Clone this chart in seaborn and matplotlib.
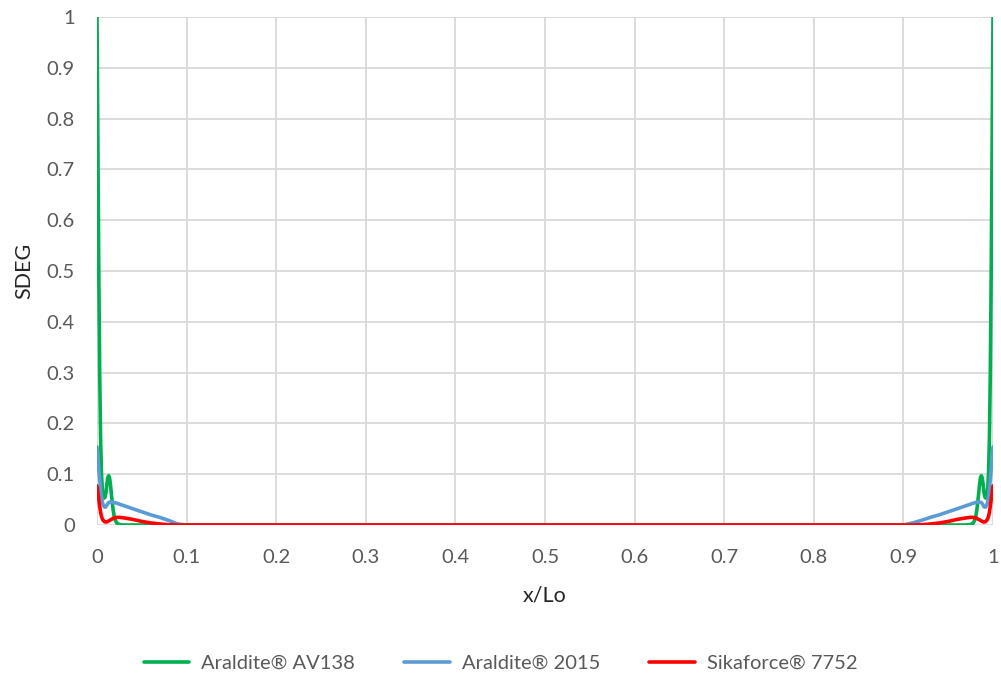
import numpy as np
import pandas as pd
import matplotlib
matplotlib.use("Agg")
import matplotlib.pyplot as plt
import seaborn as sns

# Normalised overlap position x/Lo
x_pos = [0, .001, .002, .003, .004, .005, .006, .007, .008, .009, .010, .011, .012, .013, .014,
         .015, .016, .017, .018, .019, .020, .022, .025, .03, .04, .05, .06, .07, .08, .09, .1,
         .9, .91, .92, .93, .94, .95, .96, .97, .975, .978, .980, .981, .982, .983, .984,
         .985, .986, .987, .988, .989, .990, .991, .992, .993, .994, .995, .996, .997, .998, .999, 1.0]

# SDEG along the overlap for each adhesive
sdeg_av138 = [1.0, .75, .5, .3, .17, .1, .07, .057, .053, .055, .063, .08, .093, .097, .093,
              .08, .062, .045, .03, .019, .011, .004, .001, 0, 0, 0, 0, 0, 0, 0, 0,
              0, 0, 0, 0, 0, 0, 0, 0, .001, .004, .011, .019, .03, .045, .062,
              .08, .093, .097, .093, .08, .063, .055, .053, .057, .07, .1, .17, .3, .5, .75, 1.0]
sdeg_2015 = [.154, .13, .11, .09, .07, .055, .045, .039, .036, .035, .036, .039, .042, .044, .045,
             .045, .045, .045, .045, .044, .044, .043, .041, .038, .032, .026, .02, .015, .009, .002, 0,
             0, .004, .009, .015, .02, .026, .032, .038, .041, .043, .044, .044, .045, .045, .045,
             .045, .045, .044, .042, .039, .036, .035, .036, .039, .045, .055, .07, .09, .11, .13, .154]
sdeg_7752 = [.077, .063, .05, .037, .025, .017, .012, .009, .007, .006, .006, .006, .007, .008, .009,
             .010, .011, .012, .013, .014, .014, .015, .015, .014, .011, .007, .004, .002, .0005, 0, 0,
             0, 0, .0005, .002, .004, .007, .011, .014, .015, .015, .014, .014, .013, .012, .011,
             .010, .009, .008, .007, .006, .006, .006, .007, .009, .012, .017, .025, .037, .05, .063, .077]

series_names = ["Araldite® AV138", "Araldite® 2015", "Sikaforce® 7752"]
series_colors = ["#00B050", "#5B9BD5", "#FF0000"]
tick_values = [round(0.1 * i, 1) for i in range(11)]
tick_labels = ["0", "0.1", "0.2", "0.3", "0.4", "0.5", "0.6", "0.7", "0.8", "0.9", "1"]

df = pd.concat([
    pd.DataFrame({"x/Lo": x_pos, "SDEG": vals, "Adhesive": name})
    for name, vals in zip(series_names, [sdeg_av138, sdeg_2015, sdeg_7752])
], ignore_index=True)

sns.set_theme(style="white")
plt.rcParams["font.family"] = ["Lato", "DejaVu Sans"]
text_col = "#595959"

fig = plt.figure(figsize=(10.01, 6.77), dpi=100)
ax = fig.add_axes([97 / 1001, 1 - 525 / 677, (993 - 97) / 1001, (525 - 17) / 677])

sns.lineplot(data=df, x="x/Lo", y="SDEG", hue="Adhesive", hue_order=series_names,
             palette=series_colors, linewidth=2.6, ax=ax, legend=True, sort=False)

ax.set_xlim(0, 1)
ax.set_ylim(0, 1)
ax.set_xticks(tick_values)
ax.set_xticklabels(tick_labels)
ax.set_yticks(tick_values)
ax.set_yticklabels(tick_labels)
ax.grid(True, color="#d9d9d9", linewidth=1.3)
ax.set_axisbelow(True)
for s in ax.spines.values():
    s.set_visible(False)
ax.tick_params(axis="both", length=0, labelsize=14.5, colors=text_col)
ax.tick_params(axis="x", pad=17)
ax.tick_params(axis="y", pad=16)
ax.set_xlabel("x/Lo", fontsize=15.5, color="#262626", labelpad=14)
ax.set_ylabel("SDEG", fontsize=15.5, color="#262626", labelpad=9)

handles, labels = ax.get_legend_handles_labels()
ax.get_legend().remove()
fig.legend(handles, labels, loc="center", bbox_to_anchor=(0.5, 1 - 663 / 677), ncol=3,
           frameon=False, fontsize=14.5, handlelength=2.25, columnspacing=2.45,
           handletextpad=0.6, labelcolor=text_col)

fig.savefig("out.png", dpi=100)
